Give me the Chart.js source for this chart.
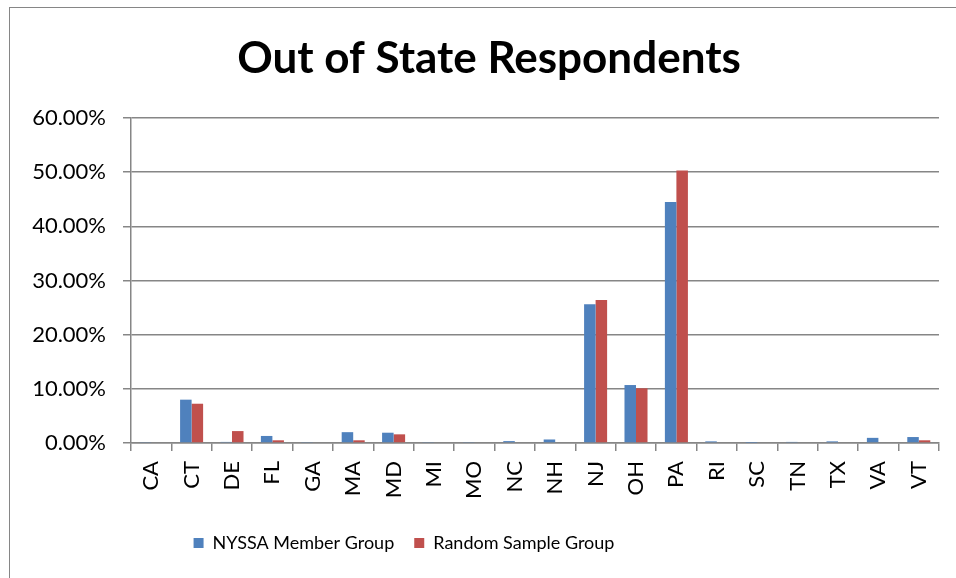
<!DOCTYPE html>
<html lang="en">
<head>
    <meta charset="UTF-8">
    <title>Out of State Respondents</title>
    <script src="https://cdn.jsdelivr.net/npm/chart.js"></script>
    <style>
        html, body { margin: 0; padding: 0; background: #fff; }
        .wrap { position: relative; width: 956px; height: 578px; }
        .frame {
            position: absolute; left: 9px; top: 7px; right: -10px; bottom: -10px;
            border-left: 1.5px solid #868686; border-top: 1.5px solid #868686;
            pointer-events: none;
        }
    </style>
</head>
<body>
<div class="wrap">
    <canvas id="stateChart" width="956" height="578"></canvas>
    <div class="frame"></div>
</div>
<script>
    // Chart data (percent of respondents)
    const states = ['CA', 'CT', 'DE', 'FL', 'GA', 'MA', 'MD', 'MI', 'MO', 'NC',
                    'NH', 'NJ', 'OH', 'PA', 'RI', 'SC', 'TN', 'TX', 'VA', 'VT'];
    const memberGroup = [0.1, 8.0, 0.2, 1.3, 0.1, 2.0, 1.9, 0.1, 0.1, 0.35,
                         0.65, 25.6, 10.7, 44.5, 0.3, 0.05, 0.2, 0.3, 0.95, 1.1];
    const randomGroup = [0, 7.25, 2.2, 0.5, 0, 0.5, 1.6, 0, 0, 0,
                         0, 26.4, 10.1, 50.3, 0, 0, 0, 0, 0, 0.5];
    const yTicks = [0, 10, 20, 30, 40, 50, 60];

    const gridColor = '#868686';
    const fontFamily = 'Lato, "Open Sans", sans-serif';

    // Excel centres the title and legend differently from Chart.js,
    // so nudge both boxes sideways once the layout is done
    const boxShift = {
        id: 'boxShift',
        afterLayout(chart) {
            const lg = chart.legend;
            lg.left -= 70;
            lg.right -= 70;
            const tb = chart.titleBlock;
            tb.left += 15;
            tb.right += 15;
        }
    };

    Chart.defaults.font.family = fontFamily;
    Chart.defaults.color = '#000';

    const ctx = document.getElementById('stateChart').getContext('2d');
    new Chart(ctx, {
        type: 'bar',
        data: {
            labels: states,
            datasets: [{
                label: 'NYSSA Member Group',
                data: memberGroup,
                backgroundColor: '#4F81BD',
                barPercentage: 1,
                categoryPercentage: 0.57
            }, {
                label: 'Random Sample Group',
                data: randomGroup,
                backgroundColor: '#C0504D',
                barPercentage: 1,
                categoryPercentage: 0.57
            }]
        },
        options: {
            responsive: false,
            animation: false,
            layout: {
                padding: { left: 9, right: 17, top: 0, bottom: 16 }
            },
            plugins: {
                title: {
                    display: true,
                    text: 'Out of State Respondents',
                    font: { size: 44, weight: 'bold' },
                    color: '#000',
                    padding: { top: 32, bottom: 33.2 }
                },
                legend: {
                    position: 'bottom',
                    labels: {
                        boxWidth: 10,
                        boxHeight: 10,
                        padding: 20,
                        font: { size: 18 },
                        color: '#000'
                    }
                },
                tooltip: { enabled: false }
            },
            scales: {
                x: {
                    grid: {
                        offset: true,
                        drawOnChartArea: false,
                        tickLength: 8,
                        color: gridColor,
                        lineWidth: 1.5
                    },
                    border: { color: gridColor, width: 1.5 },
                    ticks: {
                        minRotation: 90,
                        maxRotation: 90,
                        padding: 10,
                        font: { size: 22 }
                    },
                    afterFit(scale) { scale.height = 71; }
                },
                y: {
                    min: 0,
                    max: 60,
                    afterBuildTicks(scale) {
                        scale.ticks = yTicks.map(v => ({ value: v }));
                    },
                    grid: {
                        tickLength: 8,
                        color: gridColor,
                        lineWidth: 1.5
                    },
                    border: { color: gridColor, width: 1.5 },
                    ticks: {
                        padding: 17,
                        font: { size: 22 },
                        callback: v => v.toFixed(2) + '%'
                    },
                    afterFit(scale) { scale.width = 122; }
                }
            }
        },
        plugins: [boxShift]
    });
</script>
</body>
</html>
